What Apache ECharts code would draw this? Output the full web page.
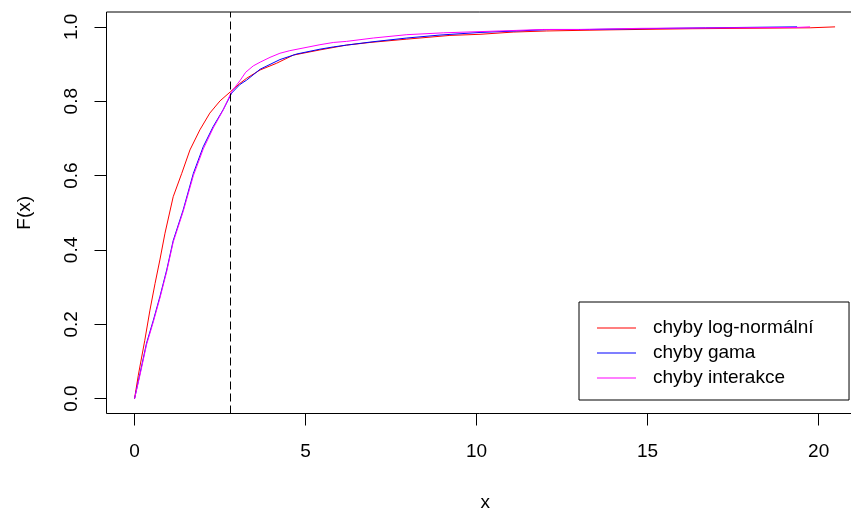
<!DOCTYPE html>
<html>
<head>
<meta charset="utf-8">
<script src="https://cdn.jsdelivr.net/npm/echarts@6/dist/echarts.min.js"></script>
<style>
  html, body { margin: 0; padding: 0; background: #fff; }
  #chart { width: 851px; height: 513px; }
</style>
</head>
<body>
<div id="chart"></div>
<script>
const seriesNames = ['chyby log-normální', 'chyby gama', 'chyby interakce'];

const lognormX = [0, 0.11, 0.30, 0.45, 0.60, 0.74, 0.89, 1.13, 1.38, 1.62, 1.91, 2.20, 2.50, 2.81, 3.08, 3.28, 3.67, 4.15, 4.64, 5.42, 6.20, 6.88, 7.96, 9.22, 10.10, 11.07, 12.05, 12.05, 13.90, 13.90, 16.30, 16.30, 19.75, 19.75, 20.48];
const lognormF = [0, 0.063, 0.157, 0.238, 0.310, 0.373, 0.445, 0.543, 0.606, 0.669, 0.723, 0.768, 0.801, 0.826, 0.848, 0.862, 0.884, 0.902, 0.924, 0.938, 0.951, 0.958, 0.967, 0.977, 0.980, 0.986, 0.989, 0.992, 0.992, 0.995, 0.995, 0.9975, 0.9975, 1.0, 1.0];

const gammaX = [0, 0.16, 0.35, 0.55, 0.74, 0.94, 1.13, 1.42, 1.72, 2.01, 2.30, 2.59, 2.84, 3.08, 3.28, 3.67, 4.25, 4.74, 5.42, 5.81, 6.20, 6.97, 7.96, 8.93, 10.10, 11.17, 12.15, 13.30, 13.30, 14.80, 14.80, 16.70, 16.70, 19.37];
const gammaF = [0, 0.068, 0.149, 0.211, 0.274, 0.346, 0.425, 0.507, 0.606, 0.678, 0.732, 0.777, 0.822, 0.845, 0.857, 0.886, 0.912, 0.927, 0.940, 0.946, 0.951, 0.960, 0.970, 0.978, 0.985, 0.989, 0.993, 0.993, 0.995, 0.995, 0.9975, 0.9975, 1.0, 1.0];

const interX = [0, 0.16, 0.35, 0.55, 0.74, 0.94, 1.13, 1.42, 1.72, 2.01, 2.30, 2.59, 2.84, 3.08, 3.25, 3.47, 3.67, 3.96, 4.25, 4.54, 5.42, 5.81, 6.20, 6.98, 7.96, 9.03, 10.68, 11.95, 13.00, 13.00, 14.80, 14.80, 19.37, 19.37, 19.75];
const interF = [0, 0.064, 0.145, 0.207, 0.270, 0.342, 0.421, 0.503, 0.600, 0.672, 0.728, 0.776, 0.826, 0.855, 0.878, 0.895, 0.905, 0.918, 0.929, 0.936, 0.952, 0.958, 0.961, 0.970, 0.979, 0.984, 0.989, 0.993, 0.993, 0.996, 0.996, 0.9985, 0.9985, 1.0, 1.0];

const cutoffX = 2.81;   // dashed vertical reference line

const xTicks = [0, 5, 10, 15, 20];
const yTicks = [0, 0.2, 0.4, 0.6, 0.8, 1.0];

// ---- chart ----
const pairs = (xs, fs) => xs.map((x, i) => [x, fs[i]]);
const FONT = 'Liberation Sans, Arial, sans-serif';
const colors = ['#ff0000', '#0000ff', '#ff00ff'];

const chart = echarts.init(document.getElementById('chart'), null, { renderer: 'canvas' });

const mkSeries = (name, data, color, extra) => Object.assign({
  name: name,
  type: 'line',
  data: data,
  symbol: 'none',
  showSymbol: false,
  smooth: false,
  lineStyle: { color: color, width: 1 },
  itemStyle: { color: color },
  silent: true,
  animation: false
}, extra || {});

chart.setOption({
  animation: false,
  backgroundColor: '#ffffff',
  grid: {
    left: 106.5, top: 12, width: 757.3, height: 401.5,
    containLabel: false, outerBoundsMode: 'none',
    show: true, borderColor: '#000', borderWidth: 1, backgroundColor: 'transparent'
  },
  xAxis: {
    type: 'value', min: -0.82, max: 21.32,
    axisLine: { show: false, onZero: false },
    splitLine: { show: false },
    axisTick: { show: true, inside: false, customValues: xTicks, length: 12, lineStyle: { color: '#000', width: 1 } },
    axisLabel: { customValues: xTicks, margin: 29, fontSize: 19, color: '#000', fontFamily: FONT },
    name: 'x', nameLocation: 'middle', nameGap: 80,
    nameTextStyle: { fontSize: 19, color: '#000', fontFamily: FONT }
  },
  yAxis: {
    type: 'value', min: -0.04, max: 1.04,
    axisLine: { show: false, onZero: false },
    splitLine: { show: false },
    axisTick: { show: true, inside: false, customValues: yTicks, length: 12, lineStyle: { color: '#000', width: 1 } },
    axisLabel: {
      customValues: yTicks, rotate: 90, margin: 25, fontSize: 19, color: '#000', fontFamily: FONT,
      formatter: v => Number(v).toFixed(1)
    },
    name: 'F(x)', nameLocation: 'middle', nameGap: 72, nameRotate: 90,
    nameTextStyle: { fontSize: 19, color: '#000', fontFamily: FONT }
  },
  legend: {
    data: seriesNames,
    icon: 'rect',
    orient: 'vertical',
    left: 579, top: 302,
    itemWidth: 39, itemHeight: 1.2, itemGap: 0,
    padding: [13.5, 35.5, 9.5, 18],
    borderColor: '#000', borderWidth: 1,
    selectedMode: false,
    textStyle: { fontSize: 19, lineHeight: 25, color: '#000', fontFamily: FONT, padding: [0, 0, 0, 12] }
  },
  series: [
    mkSeries(seriesNames[0], pairs(lognormX, lognormF), colors[0], {
      markLine: {
        silent: true, symbol: 'none', animation: false,
        label: { show: false },
        lineStyle: { color: '#000', type: [8, 4], width: 1 },
        data: [{ xAxis: cutoffX }]
      }
    }),
    mkSeries(seriesNames[1], pairs(gammaX, gammaF), colors[1]),
    mkSeries(seriesNames[2], pairs(interX, interF), colors[2])
  ]
});
</script>
</body>
</html>
